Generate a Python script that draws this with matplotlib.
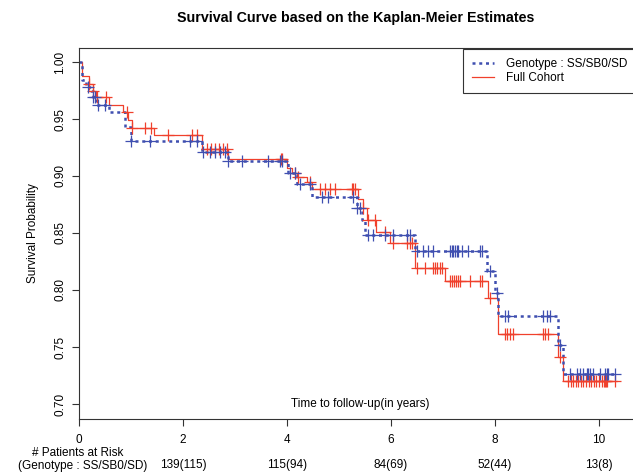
import matplotlib as mpl
mpl.use('Agg')
import matplotlib.pyplot as plt
import matplotlib.transforms as mtransforms
import numpy as np

plt.rcParams['font.family'] = ['Liberation Sans', 'DejaVu Sans']

# step times and survival after each step
geno_t = [0, 0.06, 0.14, 0.23, 0.27, 0.33, 0.58, 0.88, 1.00, 2.37, 2.87, 4.02, 4.19, 4.48,
          5.34, 5.44, 5.50, 6.46, 7.84, 8.00, 8.06, 9.22, 9.31, 10.34]
geno_s = [1.0, 0.984, 0.978, 0.975, 0.969, 0.962, 0.956, 0.943, 0.931, 0.921, 0.913, 0.903, 0.893, 0.882,
          0.872, 0.861, 0.848, 0.834, 0.817, 0.797, 0.777, 0.752, 0.726, 0.726]

full_t = [0, 0.06, 0.19, 0.27, 0.33, 0.58, 0.85, 0.94, 1.02, 1.44, 2.37, 2.87, 4.00, 4.09, 4.20,
          4.38, 4.49, 5.37, 5.47, 5.53, 5.71, 5.98, 6.46, 7.04, 7.87, 8.06, 9.22, 9.31, 10.34]
full_s = [1.0, 0.988, 0.981, 0.975, 0.969, 0.962, 0.956, 0.949, 0.942, 0.936, 0.924, 0.915, 0.907, 0.903, 0.899,
          0.895, 0.889, 0.880, 0.872, 0.861, 0.851, 0.841, 0.819, 0.808, 0.793, 0.761, 0.741, 0.720, 0.720]

# censoring times
geno_cens = [0.17, 0.27, 0.31, 0.37, 0.50, 1.00, 1.37, 2.13, 2.27, 2.38, 2.52, 2.62, 2.71, 2.81, 2.87,
             3.13, 3.63, 3.87, 3.90, 4.06, 4.15, 4.25, 4.44, 4.67, 4.79, 5.27, 5.34, 5.40,
             5.56, 5.65, 5.88, 6.04, 6.31, 6.37, 6.50, 6.62, 6.71, 6.81, 7.13, 7.17, 7.19, 7.23,
             7.27, 7.29, 7.37, 7.48, 7.71, 7.75, 7.90, 8.04, 8.19, 8.25, 8.92, 9.00, 9.06, 9.25,
             9.44, 9.58, 9.63, 9.69, 9.77, 9.79, 9.83, 9.88, 10.02, 10.12, 10.15, 10.17, 10.31]
full_cens = [0.19, 0.27, 0.35, 0.52, 0.92, 1.02, 1.27, 1.38, 1.71, 2.17, 2.27, 2.46, 2.54, 2.62, 2.70,
             2.77, 2.85, 3.88, 3.90, 4.15, 4.21, 4.44, 4.63, 4.73, 4.83, 4.92, 5.25, 5.27, 5.31,
             5.47, 5.56, 5.69, 5.88, 6.04, 6.31, 6.37, 6.40, 6.50, 6.65, 6.81, 6.85, 6.88, 6.94,
             6.98, 7.13, 7.17, 7.21, 7.25, 7.29, 7.33, 7.52, 7.71, 7.75, 7.90, 8.19, 8.23, 8.29,
             8.35, 8.92, 8.96, 9.02, 9.25, 9.40, 9.46, 9.50, 9.56, 9.60, 9.65, 9.70, 9.75, 9.80,
             9.85, 9.90, 9.95, 10.00, 10.05, 10.10, 10.12, 10.14, 10.16, 10.30]

risk_x = [2, 4, 6, 8, 10]
risk_lbl = ['139(115)', '115(94)', '84(69)', '52(44)', '13(8)']

blue = '#3f4fb0'
red = '#f0402c'
fs = 8.5


def surv_at(times, surv, c):
    idx = np.searchsorted(times, c, side='right') - 1
    return np.array(surv)[idx]


fig = plt.figure(figsize=(6.33, 4.73), dpi=100)
ax = fig.add_axes([79 / 633, 54 / 473, 561.6 / 633, 371 / 473])

ax.step(full_t, full_s, where='post', color=red, linewidth=0.9, label='Full Cohort')
ax.step(geno_t, geno_s, where='post', color=blue, linewidth=1.8, linestyle=(0, (1.2, 1.5)),
        label='Genotype : SS/SB0/SD')
ax.plot(full_cens, surv_at(full_t, full_s, full_cens), '+', color=red, markersize=8,
        markeredgewidth=0.9)
ax.plot(geno_cens, surv_at(geno_t, geno_s, geno_cens), '+', color=blue, markersize=8,
        markeredgewidth=0.9)

ax.set_xlim(0, 10.8)
ax.set_ylim(0.6868, 1.0123)
ax.set_xticks([0, 2, 4, 6, 8, 10])
ax.set_yticks([0.70, 0.75, 0.80, 0.85, 0.90, 0.95, 1.00])
ax.set_yticklabels(['0.70', '0.75', '0.80', '0.85', '0.90', '0.95', '1.00'], rotation=90, va='center')
ax.tick_params(axis='both', labelsize=fs, length=5, width=0.8, color='#333333', pad=5.5)
ax.tick_params(axis='y', pad=4)
for sp in ax.spines.values():
    sp.set_color('#333333')
    sp.set_linewidth(0.8)

ax.set_ylabel('Survival Probability', fontsize=fs, labelpad=11)
ax.text(5.4, 0.70, 'Time to follow-up(in years)', fontsize=fs, ha='center', va='center')
fig.text(356 / 633, 1 - 18 / 473, 'Survival Curve based on the Kaplan-Meier Estimates',
         fontsize=10.3, fontweight='bold', ha='center', va='center')

trans = mtransforms.blended_transform_factory(ax.transData, fig.transFigure)
for xv, lb in zip(risk_x, risk_lbl):
    ax.text(xv, 1 - 465 / 473, lb, fontsize=fs, ha='center', va='center', transform=trans)
fig.text(78 / 633, 1 - 453 / 473, '# Patients at Risk', fontsize=fs, ha='center', va='center')
fig.text(83 / 633, 1 - 466 / 473, '(Genotype : SS/SB0/SD)', fontsize=fs, ha='center', va='center')

h, l = ax.get_legend_handles_labels()
leg = fig.legend(h[::-1], l[::-1], loc='upper left', bbox_to_anchor=(463 / 633, 1 - 49 / 473),
                 borderaxespad=0, fancybox=False, edgecolor='#333333', fontsize=fs,
                 handlelength=1.9, handletextpad=1.0, labelspacing=0.2, borderpad=0.75,
                 framealpha=1)
leg.get_frame().set_linewidth(0.8)

fig.savefig('out.png', dpi=100)
